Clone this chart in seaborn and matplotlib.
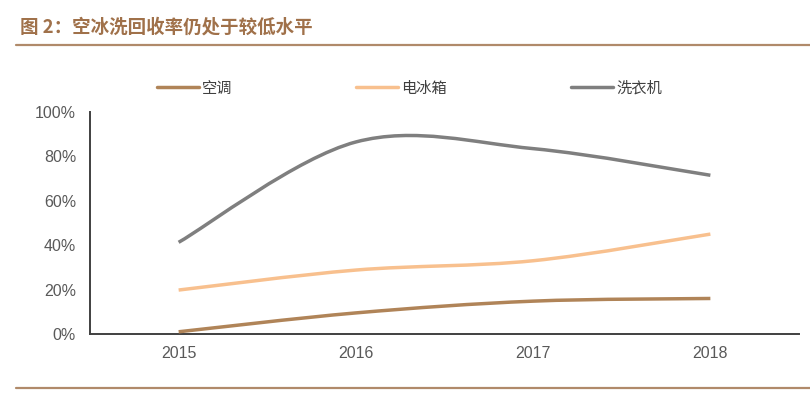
import matplotlib
matplotlib.use("Agg")
import matplotlib.pyplot as plt
from matplotlib.path import Path
from matplotlib.patches import PathPatch
from matplotlib.lines import Line2D
import seaborn as sns
import numpy as np

years = ["2015", "2016", "2017", "2018"]
kongtiao = [1.0, 9.5, 14.8, 16.0]
bingxiang = [19.8, 28.8, 33.0, 45.0]
xiyiji = [41.3, 86.5, 83.5, 71.5]

series_names = ["空调", "电冰箱", "洗衣机"]
series_values = [kongtiao, bingxiang, xiyiji]
colors = ["#b08458", "#f8c08e", "#7f7f7f"]

sns.set_theme(style="white")
plt.rcParams["font.family"] = ["Liberation Sans", "Noto Sans CJK SC", "DejaVu Sans"]


def smooth_path(ys):
    # excel-like smoothed line: cubic bezier through each point
    xs = np.arange(len(ys), dtype=float)
    ys = np.asarray(ys, dtype=float)
    pts = np.column_stack([xs, ys])
    n = len(pts)
    verts = [pts[0]]
    codes = [Path.MOVETO]
    for i in range(n - 1):
        p0 = pts[i - 1] if i > 0 else pts[i]
        p1 = pts[i]
        p2 = pts[i + 1]
        p3 = pts[i + 2] if i + 2 < n else pts[i + 1]
        c1 = p1 + (p2 - p0) / 6.0
        c2 = p2 - (p3 - p1) / 6.0
        verts += [c1, c2, p2]
        codes += [Path.CURVE4] * 3
    return Path(verts, codes)


fig = plt.figure(figsize=(8.1, 3.96), dpi=100)
ax = fig.add_axes([90 / 810, 1 - 334 / 396, 709 / 810, 222 / 396])

for name, vals, c in zip(series_names, series_values, colors):
    patch = PathPatch(smooth_path(vals), facecolor="none", edgecolor=c,
                      linewidth=2.5, capstyle="butt", zorder=3)
    ax.add_patch(patch)

ax.set_xlim(-0.5, 3.5)
ax.set_ylim(0, 100)
ax.set_yticks(np.arange(0, 101, 20))
ax.set_yticklabels([f"{v}%" for v in range(0, 101, 20)])
ax.set_xticks(np.arange(-0.5, 3.6, 1.0))
ax.set_xticklabels([])
ax.set_xticks(np.arange(len(years)), minor=True)
ax.set_xticklabels(years, minor=True)
ax.tick_params(axis="x", which="minor", length=0, pad=9, labelsize=11.5, labelcolor="#595959")
ax.tick_params(axis="x", which="major", length=4, width=1.2, color="#404040", direction="out")
ax.tick_params(axis="y", length=4, width=1.2, color="#404040", direction="out",
               labelsize=11.5, labelcolor="#595959", pad=6)
sns.despine(ax=ax)
for side in ["left", "bottom"]:
    ax.spines[side].set_color("#404040")
    ax.spines[side].set_linewidth(1.4)
ax.grid(False)

handles = [Line2D([], [], color=c, linewidth=2.5) for c in colors]
leg = fig.legend(handles, series_names, loc="center left", bbox_to_anchor=(157 / 810, 1 - 88 / 396),
                 ncol=3, frameon=False, handlelength=2.75, handletextpad=0.2,
                 columnspacing=8.1, borderpad=0, borderaxespad=0,
                 prop={"family": ["Noto Sans CJK SC"], "size": 11})
for t in leg.get_texts():
    t.set_color("#404040")

fig.text(20 / 810, 1 - 27 / 396, "图 2：空冰洗回收率仍处于较低水平", fontsize=13.3, fontweight="bold",
         color="#a0714a", va="center", ha="left", family=["Noto Sans CJK SC", "DejaVu Sans"])
fig.add_artist(Line2D([16 / 810, 1.0], [1 - 45 / 396] * 2, color="#b08a6a", linewidth=1.6))
fig.add_artist(Line2D([16 / 810, 1.0], [1 - 388 / 396] * 2, color="#b08a6a", linewidth=1.6))

fig.savefig("out.png", dpi=100, facecolor="white")
